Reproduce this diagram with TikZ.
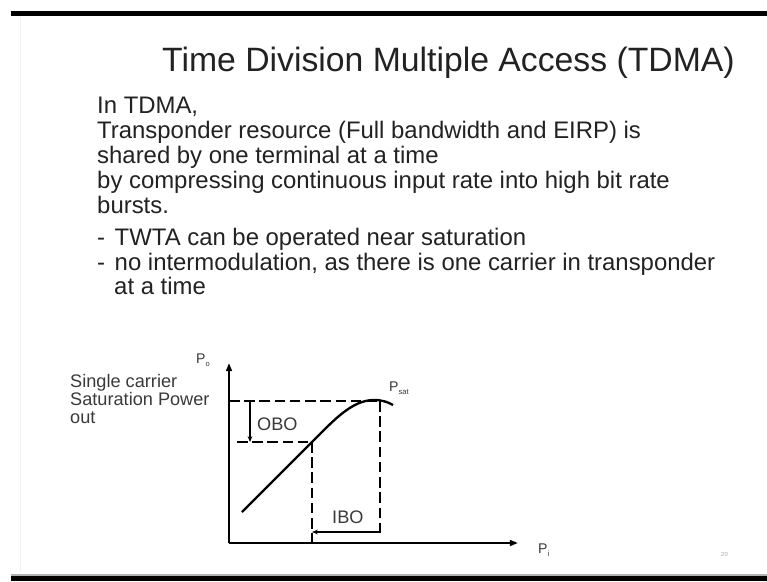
\documentclass[tikz,border=0pt]{standalone}
\usepackage{fontspec}
\setmainfont{Liberation Sans}
\usetikzlibrary{arrows.meta}
\definecolor{ink}{HTML}{222222}
\definecolor{soft}{HTML}{3A3A3A}
\newcommand{\psub}[1]{P\raisebox{-0.45ex}{\fontsize{6.5}{7}\selectfont #1}}

\begin{document}
\begin{tikzpicture}[
  x=0.03cm, y=-0.03cm,
  title/.style={anchor=base west, inner sep=0pt, font=\fontsize{28.8}{32}\selectfont, text=ink},
  body/.style={anchor=base west, inner sep=0pt, font=\fontsize{20.4}{24}\selectfont, text=ink},
  lbl/.style={anchor=base west, inner sep=0pt, font=\fontsize{15.5}{18}\selectfont, text=soft},
  plbl/.style={anchor=base west, inner sep=0pt, font=\fontsize{12}{14}\selectfont, text=soft},
  axis/.style={line width=2pt, -{Triangle[length=7pt,width=5pt]}},
  guide/.style={line width=2pt, dash pattern=on 9pt off 4pt},
  curve/.style={line width=2pt},
  span/.style={line width=1.2pt, -{Stealth[length=5pt,width=4pt]}}
]
\useasboundingbox (0,0) rectangle (767,581);
\fill[white] (0,0) rectangle (767,581);
% slide frame
\fill[black] (11,11) rectangle (767,16);
\fill[gray!60] (11,573.5) rectangle (767,576);
\fill[black] (11,576) rectangle (767,581);
\draw[gray!10] (20,17) -- (20,572);

% heading and text
\node[title] (head) at (162,71) {Time Division Multiple Access (TDMA)};
\node[body] (l1) at (97,113) {In TDMA,};
\node[body] (l2) at (97,138) {Transponder resource (Full bandwidth and EIRP) is};
\node[body] (l3) at (97,163) {shared by one terminal at a time};
\node[body] (l4) at (97,188) {by compressing continuous input rate into high bit rate};
\node[body] (l5) at (97,213) {bursts.};
\node[body] (b1) at (97,245) {-\hspace{0.4em}TWTA can be operated near saturation};
\node[body] (b2) at (97,270) {-\hspace{0.4em}no intermodulation, as there is one carrier in transponder};
\node[body] (b3) at (114,294) {at a time};

% transfer curve
\coordinate (origin) at (229,543);
\coordinate (ytip) at (229,363);
\coordinate (xtip) at (518,543);
\coordinate (lin) at (242,512);
\coordinate (op) at (312,442);
\coordinate (sat) at (380,401);
\coordinate (ibo) at (380,532);

\draw[axis] (origin) -- (ytip);
\draw[axis] (origin) -- (xtip);

\draw[guide] (origin |- sat) -- (sat);
\draw[guide] (237,442) -- (op);
\draw[guide] (op) -- (op |- origin);
\draw[guide] (sat) -- (380,536);

\draw[curve] (lin) -- (op) .. controls (334,420) and (352,400) .. (374,400)
  .. controls (382,400) and (388,402) .. (393,405);

% back-off marks
\draw[line width=1.2pt] (246,401) -- (254,401);
\draw[span] (250,401) -- (250,442);
\draw[span] (ibo) -- (op |- ibo);

\node[lbl] (obo) at (257,430) {OBO};
\node[lbl] (ibolbl) at (332,523) {IBO};
\node[plbl] (po) at (196,363) {\psub{o}};
\node[plbl] (psat) at (389,391) {\psub{sat}};
\node[plbl] (pi) at (538,553) {\psub{i}};

\node[lbl] (sc1) at (70,387) {Single carrier};
\node[lbl] (sc2) at (70,405) {Saturation Power};
\node[lbl] (sc3) at (70,423) {out};

\node[anchor=base west, inner sep=0pt, font=\fontsize{5}{6}\selectfont, text=gray!70] (page) at (721,556) {20};
\end{tikzpicture}
\end{document}
